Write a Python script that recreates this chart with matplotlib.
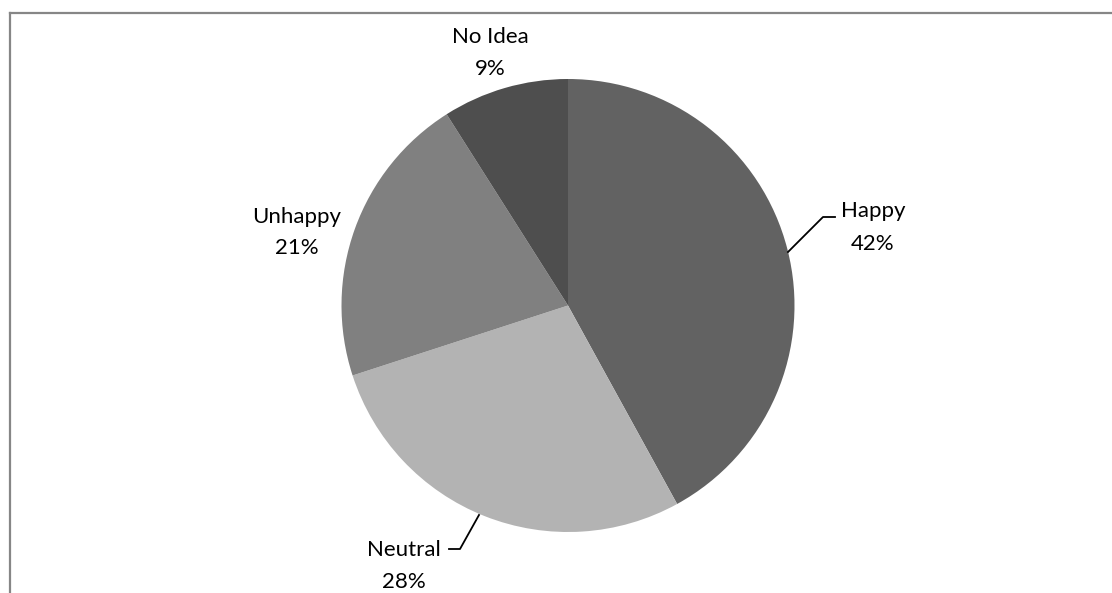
import matplotlib
matplotlib.use("Agg")
import matplotlib.pyplot as plt
from matplotlib.lines import Line2D

categories = ["Happy", "Neutral", "Unhappy", "No Idea"]
shares = [42, 28, 21, 9]
colors = ["#626262", "#b3b3b3", "#808080", "#4e4e4e"]

W, H = 1112, 593
fig = plt.figure(figsize=(W / 100, H / 100), dpi=100)
ax = fig.add_axes([0, 0, 1, 1])
ax.set_xlim(0, W)
ax.set_ylim(0, H)
ax.set_aspect("equal")
ax.axis("off")

def fy(y):
    return H - y

cx, cy, r = 568, 305.5, 226.5
ax.pie(shares, colors=colors, startangle=90, counterclock=False,
       center=(cx, fy(cy)), radius=r, frame=True,
       wedgeprops=dict(linewidth=0))
ax.set_xlim(0, W)
ax.set_ylim(0, H)
ax.axis("off")

# label layout: (x center, baseline y of name, baseline y of percent)
label_pos = [(873, 217, 250), (404, 556, 588), (297, 223, 254), (490, 43, 75)]
font = dict(family=["Lato", "DejaVu Sans"], fontsize=16, color="black")
for name, val, (x, y1, y2) in zip(categories, shares, label_pos):
    ax.text(x, fy(y1), name, ha="center", va="baseline", **font)
    ax.text(x, fy(y2), f"{val}%", ha="center", va="baseline", **font)

# leader lines
leaders = [[(788, 252), (823, 217), (835, 217)],
           [(479, 515), (460, 549), (449, 549)]]
for pts in leaders:
    ax.plot([p[0] for p in pts], [fy(p[1]) for p in pts], color="black", lw=1.3)

# chart frame (partially cropped)
fig.add_artist(Line2D([10 / W, 1.0], [1 - 13 / H, 1 - 13 / H], color="#868686", lw=1.6, transform=fig.transFigure))
fig.add_artist(Line2D([10 / W, 10 / W], [1 - 13 / H, 0], color="#868686", lw=1.6, transform=fig.transFigure))

fig.savefig("out.png", dpi=100, facecolor="white")
